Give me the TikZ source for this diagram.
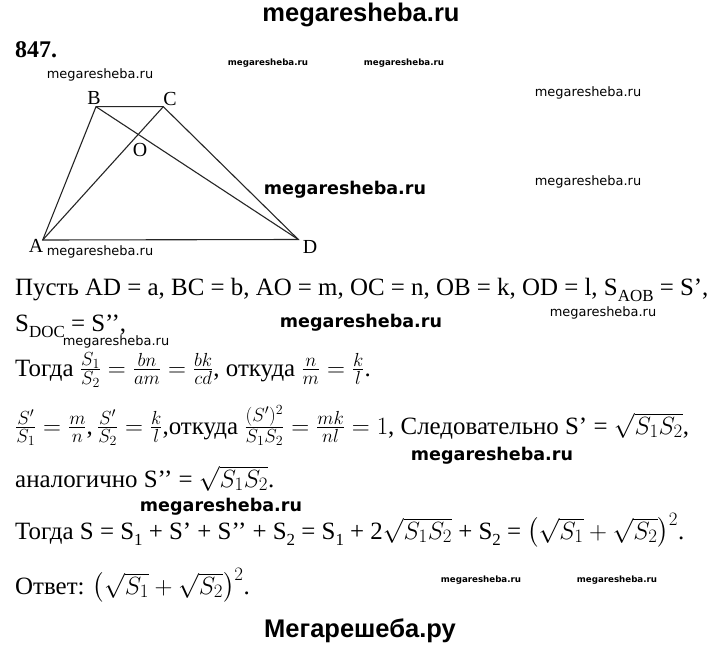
\RequirePackage{fix-cm}
\documentclass[tikz,border=0pt]{standalone}
\usepackage{amsmath}
\usepackage{fontspec}
\setmainfont{Liberation Serif}
\newfontfamily\wmfont{DejaVu Sans}
\newfontfamily\sitefont{Liberation Sans}
\DeclareMathSizes{25}{25}{19}{14}
\newcommand\lowsub[1]{\raisebox{-0.28em}{\fontsize{17}{18}\selectfont #1}}

\begin{document}
\begin{tikzpicture}[
x=1bp, y=-1bp,
txtline/.style={anchor=base west, inner sep=0pt, font=\fontsize{25}{30}\selectfont},
vlabel/.style={inner sep=0pt, font=\fontsize{20}{24}\selectfont},
edge/.style={line width=1.1bp, black!85},
wmbig/.style={inner sep=0pt, font=\wmfont\bfseries\fontsize{17.6}{18}\selectfont},
wmsmall/.style={inner sep=0pt, font=\wmfont\fontsize{13}{14}\selectfont},
wmtiny/.style={inner sep=0pt, font=\wmfont\bfseries\fontsize{8.7}{9}\selectfont},
sitename/.style={inner sep=0pt, font=\sitefont\bfseries\fontsize{25.6}{26}\selectfont},
]

% page
\fill[white] (0,0) rectangle (720,649);
\useasboundingbox (0,0) rectangle (720,649);

% Site name at the top and bottom
\node[sitename] (sitetop) at (361,15) {megaresheba.ru};
\node[sitename] (sitebottom) at (360,631) {Мегарешеба.ру};

% Task number
\node[anchor=base west, inner sep=0pt, font=\bfseries\fontsize{24}{28}\selectfont] (tasknum) at (15,58) {847.};

% Trapezoid vertices
\coordinate (A) at (42.7,240);
\coordinate (B) at (96,106.7);
\coordinate (C) at (163.3,106.7);
\coordinate (D) at (298.3,239.5);
\coordinate (O) at (intersection of A--C and B--D);

\draw[edge] (A) -- (B) -- (C) -- (D) -- cycle;
\draw[edge] (A) -- (C);
\draw[edge] (B) -- (D);

% Vertex labels
\node[vlabel] (labA) at (36,246) {A};
\node[vlabel] (labB) at (94,98.5) {B};
\node[vlabel] (labC) at (170,99) {C};
\node[vlabel] (labD) at (310,247) {D};
\node[vlabel] (labO) at (140,150) {O};

% Solution text
\node[txtline] (line1) at (15,295) {Пусть AD = a, BC = b, AO = m, OC = n, OB = k, OD = l, S\lowsub{AOB} = S’,};
\node[txtline] (line2) at (15,331) {S\lowsub{DOC} = S’’,};
\node[txtline] (line3) at (15,376) {Тогда $\frac{S_1}{S_2}=\frac{bn}{am}=\frac{bk}{cd}$, откуда $\frac{n}{m}=\frac{k}{l}$.};
\node[txtline] (line4) at (15,434) {$\frac{S'}{S_1}=\frac{m}{n}$,\,$\frac{S'}{S_2}=\frac{k}{l}$,откуда $\frac{(S')^2}{S_1S_2}=\frac{mk}{nl}=1$, Следовательно S’ = $\sqrt{S_1S_2}$,};
\node[txtline] (line5) at (15,487) {аналогично S’’ = $\sqrt{S_1S_2}$.};
\node[txtline] (line6) at (15,539) {Тогда S = S\lowsub{1} + S’ + S’’ + S\lowsub{2} = S\lowsub{1} + 2$\sqrt{S_1S_2}$ + S\lowsub{2} = $\left(\sqrt{S_1}+\sqrt{S_2}\right)^2$.};
\node[txtline] (line7) at (15,594) {Ответ: $\left(\sqrt{S_1}+\sqrt{S_2}\right)^2$.};

% Watermarks
\node[wmtiny] (wm1) at (268,63) {megaresheba.ru};
\node[wmtiny] (wm2) at (404,63) {megaresheba.ru};
\node[wmtiny] (wm3) at (481,580) {megaresheba.ru};
\node[wmtiny] (wm4) at (617,580) {megaresheba.ru};
\node[wmsmall] (wm5) at (100,75) {megaresheba.ru};
\node[wmsmall] (wm6) at (100,252) {megaresheba.ru};
\node[wmsmall] (wm7) at (588,93) {megaresheba.ru};
\node[wmsmall] (wm8) at (588,182) {megaresheba.ru};
\node[wmsmall] (wm9) at (603,313) {megaresheba.ru};
\node[wmsmall] (wm10) at (116,342) {megaresheba.ru};
\node[wmbig] (wm11) at (345,190) {megaresheba.ru};
\node[wmbig] (wm12) at (361,323) {megaresheba.ru};
\node[wmbig] (wm13) at (492,456) {megaresheba.ru};
\node[wmbig] (wm14) at (221,507) {megaresheba.ru};
\end{tikzpicture}
\end{document}
